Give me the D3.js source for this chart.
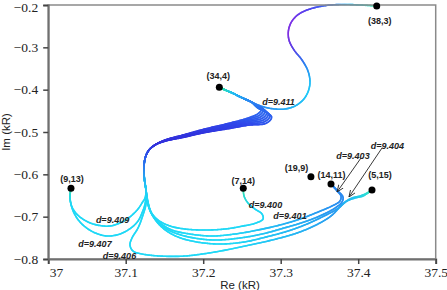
<!DOCTYPE html>
<html lang="en">
<head>
<meta charset="UTF-8">
<title>Pole trajectories</title>
<script src="https://cdn.jsdelivr.net/npm/d3@7"></script>
<style>
  body { margin: 0; background: #fff; }
  svg { display: block; }
  .pole-label, .d-label { font-family: "Liberation Sans", Arial, sans-serif; font-weight: bold; font-size: 9px; fill: #222; }
  .d-label { font-style: italic; }
  .axis-title { font-family: "Liberation Sans", Arial, sans-serif; font-size: 11.5px; fill: #222; }
</style>
</head>
<body>
<svg width="447" height="290"></svg>
<script>
// poles (Re, Im in kR)
const poleNames = ["(38,3)", "(34,4)", "(9,13)", "(7,14)", "(19,9)", "(14,11)", "(5,15)"];
const poleRe = [37.4239, 37.2208, 37.0294, 37.2517, 37.3390, 37.3649, 37.4178];
const poleIm = [-0.2024, -0.3944, -0.6330, -0.6330, -0.6056, -0.6229, -0.6370];

const xTicks = [37, 37.1, 37.2, 37.3, 37.4, 37.5];
const xTickLabels = ["37", "37.1", "37.2", "37.3", "37.4", "37.5"];
const yTicks = [-0.2, -0.3, -0.4, -0.5, -0.6, -0.7, -0.8];
const yTickLabels = ["\u22120.2", "\u22120.3", "\u22120.4", "\u22120.5", "\u22120.6", "\u22120.7", "\u22120.8"];

// common start leaving (34,4)
const stem = [[37.220,-0.394],[37.229,-0.401],[37.240,-0.410],[37.251,-0.420],[37.262,-0.429]];

// hairpins of the bundle
const hp9400 = [[37.2694,-0.4362],[37.2759,-0.4433],[37.2720,-0.4551],[37.2578,-0.4670],[37.2346,-0.4788],[37.2023,-0.4929],[37.1739,-0.5071],[37.1507,-0.5189]];
const hp9401 = [[37.2694,-0.4372],[37.2779,-0.4469],[37.2735,-0.4592],[37.2578,-0.4698],[37.2346,-0.4809],[37.2023,-0.4944],[37.1739,-0.5081],[37.1507,-0.5194]];
const hp9403 = [[37.2694,-0.4381],[37.2800,-0.4504],[37.2751,-0.4632],[37.2578,-0.4726],[37.2346,-0.4830],[37.2023,-0.4958],[37.1739,-0.5090],[37.1507,-0.5199]];
const hp9404 = [[37.2694,-0.4391],[37.2821,-0.4540],[37.2766,-0.4672],[37.2578,-0.4755],[37.2346,-0.4851],[37.2023,-0.4972],[37.1739,-0.5099],[37.1507,-0.5203]];
const hp9406 = [[37.2694,-0.4400],[37.2841,-0.4575],[37.2782,-0.4712],[37.2578,-0.4783],[37.2346,-0.4873],[37.2023,-0.4986],[37.1739,-0.5109],[37.1507,-0.5208]];
const hp9407 = [[37.2694,-0.4410],[37.2862,-0.4610],[37.2797,-0.4752],[37.2578,-0.4811],[37.2346,-0.4894],[37.2023,-0.5000],[37.1739,-0.5118],[37.1507,-0.5213]];
const hp9409 = [[37.2694,-0.4419],[37.2883,-0.4646],[37.2813,-0.4792],[37.2578,-0.4840],[37.2346,-0.4915],[37.2023,-0.5014],[37.1739,-0.5128],[37.1507,-0.5217]];

// shared bend and descent
const descent = [[37.1378,-0.5307],[37.1301,-0.5425],[37.1255,-0.5591],[37.1236,-0.5827],[37.1243,-0.6134],[37.1262,-0.6370]];

// tails to the end poles
const tail9400 = [[37.1288,-0.6654],[37.1327,-0.6890],[37.1417,-0.7079],[37.1572,-0.7221],[37.1765,-0.7292],[37.2023,-0.7315],[37.2281,-0.7292],[37.2514,-0.7221],[37.2681,-0.7150],[37.2772,-0.7056],[37.2759,-0.6937],[37.2668,-0.6819],[37.2578,-0.6678],[37.2527,-0.6512],[37.2517,-0.6330]];
const tail9401 = [[37.1288,-0.6678],[37.1339,-0.6937],[37.1443,-0.7150],[37.1597,-0.7315],[37.1830,-0.7410],[37.2114,-0.7457],[37.2410,-0.7410],[37.2707,-0.7315],[37.2991,-0.7197],[37.3249,-0.7056],[37.3481,-0.6890],[37.3662,-0.6748],[37.3765,-0.6630],[37.3778,-0.6512],[37.3727,-0.6394],[37.3649,-0.6229]];
const tail9403 = [[37.1288,-0.6701],[37.1352,-0.6985],[37.1468,-0.7221],[37.1636,-0.7386],[37.1881,-0.7504],[37.2165,-0.7552],[37.2475,-0.7504],[37.2759,-0.7410],[37.3043,-0.7268],[37.3301,-0.7126],[37.3533,-0.6961],[37.3701,-0.6796],[37.3791,-0.6654],[37.3804,-0.6536],[37.3739,-0.6394],[37.3649,-0.6229]];
const tail9404 = [[37.1288,-0.6725],[37.1365,-0.7032],[37.1494,-0.7292],[37.1675,-0.7481],[37.1920,-0.7599],[37.2217,-0.7646],[37.2527,-0.7599],[37.2810,-0.7481],[37.3094,-0.7339],[37.3339,-0.7174],[37.3559,-0.6985],[37.3727,-0.6819],[37.3830,-0.6654],[37.3920,-0.6559],[37.4023,-0.6512],[37.4114,-0.6441],[37.4178,-0.6370]];
const tail9406 = [[37.1262,-0.6701],[37.1223,-0.6961],[37.1159,-0.7268],[37.1081,-0.7504],[37.1055,-0.7670],[37.1094,-0.7812],[37.1210,-0.7882],[37.1443,-0.7930],[37.1765,-0.7930],[37.2152,-0.7835],[37.2539,-0.7693],[37.2888,-0.7552],[37.3210,-0.7386],[37.3456,-0.7197],[37.3649,-0.6985],[37.3765,-0.6772],[37.3856,-0.6630],[37.3959,-0.6559],[37.4062,-0.6512],[37.4178,-0.6370]];
const tail9407 = [[37.1249,-0.6701],[37.1210,-0.6914],[37.1159,-0.7103],[37.1068,-0.7268],[37.0926,-0.7410],[37.0772,-0.7457],[37.0643,-0.7410],[37.0514,-0.7292],[37.0410,-0.7126],[37.0333,-0.6914],[37.0294,-0.6701],[37.0281,-0.6512],[37.0294,-0.6330]];
const tail9409 = [[37.1249,-0.6559],[37.1210,-0.6678],[37.1159,-0.6819],[37.1068,-0.6985],[37.0952,-0.7126],[37.0797,-0.7221],[37.0630,-0.7197],[37.0514,-0.7126],[37.0410,-0.7008],[37.0346,-0.6890],[37.0301,-0.6748],[37.0281,-0.6536],[37.0294,-0.6330]];

// d = 9.411 runs from (34,4) round the loop to (38,3)
const loop9411 = [[37.2707,-0.4362],[37.2810,-0.4421],[37.2927,-0.4457],[37.3056,-0.4457],[37.3185,-0.4386],[37.3288,-0.4244],[37.3352,-0.4055],[37.3378,-0.3819],[37.3352,-0.3559],[37.3275,-0.3299],[37.3172,-0.3063],[37.3107,-0.2827],[37.3101,-0.2591],[37.3146,-0.2378],[37.3236,-0.2213],[37.3378,-0.2094],[37.3585,-0.2012],[37.3804,-0.1988],[37.4023,-0.2000],[37.4239,-0.2024]];

const dLabels = ["d=9.411", "d=9.409", "d=9.407", "d=9.406", "d=9.400", "d=9.401", "d=9.403", "d=9.404"];
const dLabelRe = [37.2972, 37.0830, 37.0604, 37.0920, 37.2804, 37.3120, 37.3933, 37.4378];
const dLabelIm = [-0.4292, -0.7079, -0.7646, -0.7925, -0.6725, -0.6985, -0.5567, -0.5331];

// arrows for d=9.403 and d=9.404
const arrowFrom = [[37.4036,-0.5614],[37.4307,-0.5378]];
const arrowTo = [[37.3727,-0.6418],[37.3881,-0.6536]];

const trajectories = [
  { d: "9.411", pts: stem.concat(loop9411), ramp: "loop" },
  { d: "9.409", pts: stem.concat(hp9409, descent, tail9409), ramp: "9,13" },
  { d: "9.407", pts: stem.concat(hp9407, descent, tail9407), ramp: "9,13" },
  { d: "9.406", pts: stem.concat(hp9406, descent, tail9406), ramp: "5,15" },
  { d: "9.404", pts: stem.concat(hp9404, descent, tail9404), ramp: "5,15" },
  { d: "9.403", pts: stem.concat(hp9403, descent, tail9403), ramp: "14,11" },
  { d: "9.401", pts: stem.concat(hp9401, descent, tail9401), ramp: "14,11" },
  { d: "9.400", pts: stem.concat(hp9400, descent, tail9400), ramp: "7,14" }
];

const svg = d3.select("svg");
const x = d3.scaleLinear().domain([37, 37.5]).range([48.2, 435.7]);
const y = d3.scaleLinear().domain([-0.8, -0.2]).range([259, 5]);

// colour along the path (s = distance from start, e = distance to end, px)
const baseRamp = d3.scaleLinear()
  .domain([0, 7, 16, 32, 50, 85, 130, 165, 180, 195, 210, 225])
  .range(["#40e07c", "#26d8c4", "#22bcf2", "#2a8cf2", "#2e6cf0", "#3048ea", "#3236de", "#3430dc", "#2f58ea", "#2a90f0", "#22c8f4", "#20d8f6"])
  .clamp(true);
const loopRamp = d3.scaleLinear()
  .domain([0, 8, 18, 35, 55, 75, 100, 112, 130, 150, 165, 180, 200, 220, 240, 255, 267])
  .range(["#40e07c", "#26d8c4", "#22bcf2", "#2a8cf2", "#2a94f2", "#22b0f4", "#20c8f8", "#22bcf6", "#2a80f0", "#5a40e6", "#8030e0", "#7a34e8", "#5044ee", "#3a70f0", "#22b8f4", "#24d8dc", "#40e09c"])
  .clamp(true);
const endRamps = {
  "9,13": d3.scaleLinear().domain([0, 6, 16]).range(["#44e49a", "#2ad8d6", "#20d8f6"]),
  "7,14": d3.scaleLinear().domain([0, 8, 22]).range(["#44e09a", "#2ad8d0", "#20d8f6"]),
  "14,11": d3.scaleLinear().domain([0, 20, 60, 140]).range(["#2a86f0", "#2a8cf0", "#28a6f2", "#20d8f6"]),
  "5,15": d3.scaleLinear().domain([0, 7, 20, 45, 150]).range(["#46e2a4", "#2cdcd8", "#22c4f2", "#2a9cf0", "#20d8f6"])
};
function colorAt(ramp, s, e) {
  if (ramp === "loop") return loopRamp(s);
  const er = endRamps[ramp];
  const maxE = er.domain()[er.domain().length - 1];
  return e < maxE ? er(e) : baseRamp(s);
}

const line = d3.line()
  .x(d => x(d[0]))
  .y(d => y(d[1]))
  .curve(d3.curveCatmullRom.alpha(0.5));

const curves = svg.append("g");
trajectories.forEach(tr => {
  const tmp = svg.append("path").attr("d", line(tr.pts)).attr("fill", "none");
  const node = tmp.node();
  const L = node.getTotalLength();
  const n = Math.ceil(L / 1.2);
  const samples = d3.range(n + 1).map(i => node.getPointAtLength(L * i / n));
  tmp.remove();
  const segs = d3.pairs(samples).map(([a, b], i) => ({ a, b, s: L * (i + 0.5) / n }));
  curves.append("g").selectAll("line")
    .data(segs)
    .join("line")
    .attr("x1", d => d.a.x).attr("y1", d => d.a.y)
    .attr("x2", d => d.b.x).attr("y2", d => d.b.y)
    .attr("stroke", d => colorAt(tr.ramp, d.s, L - d.s))
    .attr("stroke-width", 1.6)
    .attr("stroke-linecap", "round");
});

// frame and axes
svg.append("rect")
  .attr("x", x(37)).attr("y", y(-0.2))
  .attr("width", x(37.5) - x(37)).attr("height", y(-0.8) - y(-0.2))
  .attr("fill", "none").attr("stroke", "#8a8a8a").attr("stroke-width", 1.5);

const xAxis = svg.append("g")
  .attr("transform", `translate(0,${y(-0.8)})`)
  .call(d3.axisBottom(x).tickValues(xTicks).tickFormat((d, i) => xTickLabels[i]).tickSize(5).tickPadding(3));
const yAxis = svg.append("g")
  .attr("transform", `translate(${x(37)},0)`)
  .call(d3.axisLeft(y).tickValues(yTicks).tickFormat((d, i) => yTickLabels[i]).tickSize(5).tickPadding(5));
[xAxis, yAxis].forEach(ax => {
  ax.attr("font-family", "'Liberation Serif', 'Times New Roman', serif").attr("font-size", 13.5);
  ax.select(".domain").attr("stroke", "#707070").attr("stroke-width", 2);
  ax.selectAll(".tick line").attr("stroke", "#444").attr("stroke-width", 1.5);
  ax.selectAll(".tick text").attr("fill", "#222");
});
xAxis.selectAll(".tick text").filter((d, i) => i === 0).attr("text-anchor", "start").attr("dx", 1);
yAxis.selectAll(".tick text").filter((d, i) => i === 0).attr("dy", "0.45em");

svg.append("text").attr("class", "axis-title")
  .attr("x", 240).attr("y", 288.5).attr("text-anchor", "middle").text("Re (kR)");
svg.append("text").attr("class", "axis-title")
  .attr("transform", "translate(10,132) rotate(-90)").attr("text-anchor", "middle").text("Im (kR)");

// arrows
const defs = svg.append("defs");
defs.append("marker")
  .attr("id", "head").attr("viewBox", "0 0 10 10")
  .attr("refX", 10).attr("refY", 5)
  .attr("markerWidth", 7).attr("markerHeight", 7)
  .attr("markerUnits", "userSpaceOnUse").attr("orient", "auto")
  .append("path").attr("d", "M0,1 L10,5 L0,9")
  .attr("fill", "none").attr("stroke", "#222").attr("stroke-width", 1.2);

svg.append("g").selectAll("line")
  .data(d3.zip(arrowFrom, arrowTo))
  .join("line")
  .attr("x1", d => x(d[0][0])).attr("y1", d => y(d[0][1]))
  .attr("x2", d => x(d[1][0])).attr("y2", d => y(d[1][1]))
  .attr("stroke", "#222").attr("stroke-width", 0.9)
  .attr("marker-end", "url(#head)");

// d labels
svg.append("g").selectAll("text")
  .data(dLabels)
  .join("text")
  .attr("class", "d-label")
  .attr("x", (d, i) => x(dLabelRe[i]))
  .attr("y", (d, i) => y(dLabelIm[i]) + 3)
  .attr("text-anchor", "middle")
  .text(d => d);

// poles
const labelOffset = {
  "(38,3)": [3, 18], "(34,4)": [-1, -8], "(9,13)": [1, -6], "(7,14)": [0, -4.5],
  "(19,9)": [-14.5, -5.5], "(14,11)": [0.5, -5.7], "(5,15)": [8, -12]
};
svg.append("g").selectAll("circle")
  .data(poleNames)
  .join("circle")
  .attr("cx", (d, i) => x(poleRe[i]))
  .attr("cy", (d, i) => y(poleIm[i]))
  .attr("r", 3.5)
  .attr("fill", "#000");
svg.append("g").selectAll("text")
  .data(poleNames)
  .join("text")
  .attr("class", "pole-label")
  .attr("x", (d, i) => x(poleRe[i]) + labelOffset[d][0])
  .attr("y", (d, i) => y(poleIm[i]) + labelOffset[d][1])
  .attr("text-anchor", "middle")
  .text(d => d);
</script>
</body>
</html>
